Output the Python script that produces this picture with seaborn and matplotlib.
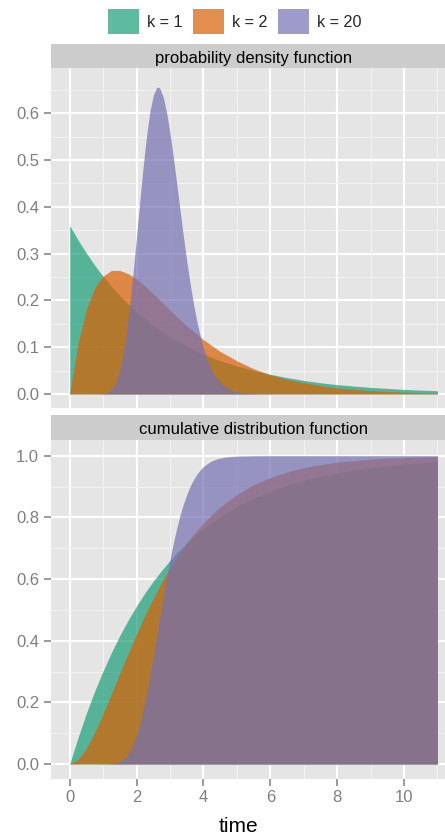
import matplotlib
matplotlib.use("Agg")
import matplotlib.pyplot as plt
from matplotlib.patches import Patch
from matplotlib.ticker import MultipleLocator, FormatStrFormatter
import seaborn as sns
import pandas as pd

# ---------------- data ----------------
series_labels = ["k = 1", "k = 2", "k = 20"]
panel_titles = ["probability density function", "cumulative distribution function"]

time_k12 = [0, 0.25, 0.5, 0.75, 1, 1.25, 1.5, 1.75, 2, 2.25, 2.5, 2.75, 3, 3.25,
            3.5, 3.75, 4, 4.5, 5, 5.5, 6, 6.5, 7, 7.5, 8, 8.5, 9, 9.5, 10, 10.5, 11]

pdf_k1 = [0.360, 0.329, 0.301, 0.275, 0.251, 0.230, 0.210, 0.192, 0.175, 0.160,
          0.146, 0.134, 0.122, 0.112, 0.102, 0.093, 0.085, 0.071, 0.060, 0.050,
          0.042, 0.035, 0.029, 0.024, 0.020, 0.017, 0.014, 0.012, 0.0098, 0.0082, 0.0069]
cdf_k1 = [0, 0.086, 0.165, 0.237, 0.302, 0.362, 0.417, 0.467, 0.513, 0.555,
          0.593, 0.628, 0.660, 0.690, 0.716, 0.741, 0.763, 0.802, 0.835, 0.862,
          0.885, 0.904, 0.920, 0.933, 0.944, 0.953, 0.961, 0.967, 0.973, 0.977, 0.981]

pdf_k2 = [0, 0.108, 0.181, 0.227, 0.252, 0.264, 0.264, 0.257, 0.246, 0.231,
          0.214, 0.197, 0.179, 0.162, 0.146, 0.131, 0.116, 0.091, 0.071, 0.054,
          0.041, 0.031, 0.024, 0.018, 0.013, 0.010, 0.0071, 0.0053, 0.0039, 0.0028, 0.0021]
cdf_k2 = [0, 0.014, 0.051, 0.103, 0.163, 0.228, 0.294, 0.359, 0.422, 0.482,
          0.537, 0.589, 0.636, 0.678, 0.717, 0.751, 0.782, 0.834, 0.874, 0.906,
          0.929, 0.947, 0.961, 0.971, 0.979, 0.984, 0.989, 0.992, 0.994, 0.996, 0.997]

time_k20 = [0, 0.8, 0.9, 1.0, 1.1, 1.2, 1.3, 1.4, 1.5, 1.6, 1.7, 1.8, 1.9, 2.0,
            2.1, 2.2, 2.3, 2.4, 2.5, 2.6, 2.65, 2.7, 2.8, 2.9, 3.0, 3.1, 3.2, 3.3,
            3.4, 3.5, 3.6, 3.7, 3.8, 3.9, 4.0, 4.1, 4.2, 4.3, 4.4, 4.5, 4.6, 4.7,
            4.8, 4.9, 5.0, 5.5, 6.0, 11.0]
pdf_k20 = [0, 0.00005, 0.00024, 0.00086, 0.0026, 0.0065, 0.0145, 0.0289, 0.0521,
           0.0865, 0.1331, 0.1920, 0.2611, 0.3367, 0.4142, 0.4879, 0.5527, 0.6039,
           0.6384, 0.6547, 0.6560, 0.6528, 0.6341, 0.6013, 0.5573, 0.5058, 0.4501,
           0.3931, 0.3374, 0.2849, 0.2368, 0.1940, 0.1567, 0.1250, 0.0984, 0.0766,
           0.0589, 0.0448, 0.0338, 0.0252, 0.0186, 0.0136, 0.0099, 0.0071, 0.0051,
           0.00085, 0.00012, 0]
cdf_k20 = [0, 0.0, 0.00002, 0.0001, 0.0003, 0.0007, 0.0018, 0.0039, 0.0080,
           0.0149, 0.0259, 0.0421, 0.0648, 0.0947, 0.1322, 0.1773, 0.2294, 0.2872,
           0.3493, 0.4140, 0.4468, 0.4795, 0.5437, 0.6055, 0.6634, 0.7165, 0.7643,
           0.8065, 0.8430, 0.8741, 0.9002, 0.9217, 0.9393, 0.9534, 0.9645, 0.9733,
           0.9801, 0.9853, 0.9892, 0.9921, 0.9943, 0.9959, 0.9971, 0.9980, 0.9986,
           0.9998, 1.0, 1.0]

# long table
rows = []
for lab, t, pdf, cdf in [("k = 1", time_k12, pdf_k1, cdf_k1),
                         ("k = 2", time_k12, pdf_k2, cdf_k2),
                         ("k = 20", time_k20, pdf_k20, cdf_k20)]:
    for ti, p, c in zip(t, pdf, cdf):
        rows.append((lab, panel_titles[0], ti, p))
        rows.append((lab, panel_titles[1], ti, c))
df = pd.DataFrame(rows, columns=["k", "panel", "time", "value"])

# ---------------- style ----------------
sns.set_theme(style="darkgrid")
plt.rcParams['font.family'] = ['Liberation Sans', 'DejaVu Sans']

palette = dict(zip(series_labels, sns.color_palette("Dark2", 3)))
ALPHA = 0.7
GREY50 = "#7F7F7F"

W, H = 445, 838
fig = plt.figure(figsize=(W / 100, H / 100), dpi=100)
fig.patch.set_facecolor("white")


def fr(l, t, r, b):
    return [l / W, 1 - b / H, (r - l) / W, (b - t) / H]


ax_top = fig.add_axes(fr(51, 68.3, 445, 408.3))
ax_bot = fig.add_axes(fr(51, 439.5, 445, 779.3))
st_top = fig.add_axes(fr(51, 44, 445, 68.3))
st_bot = fig.add_axes(fr(51, 415.3, 445, 439.5))

for ax, title in [(ax_top, panel_titles[0]), (ax_bot, panel_titles[1])]:
    sub = df[df.panel == title]
    for lab in series_labels:
        s = sub[sub.k == lab]
        ax.fill_between(s.time, 0, s.value, color=palette[lab], alpha=ALPHA,
                        linewidth=0, zorder=2)
    ax.set_facecolor("#E5E5E5")
    for sp in ax.spines.values():
        sp.set_visible(False)
    ax.set_axisbelow(True)
    ax.set_xlim(-0.559, 11.226)
    ax.xaxis.set_major_locator(MultipleLocator(2))
    ax.xaxis.set_minor_locator(MultipleLocator(1))
    ax.grid(which="major", color="white", linewidth=1.5)
    ax.grid(which="minor", color="#F2F2F2", linewidth=0.75)
    ax.tick_params(which="major", length=5, width=1.1, color=GREY50,
                   labelcolor=GREY50, labelsize=12, pad=3.6, left=True, bottom=True)
    ax.tick_params(which="minor", length=0)
    ax.yaxis.set_major_formatter(FormatStrFormatter("%.1f"))
    ax.xaxis.set_major_formatter(FormatStrFormatter("%d"))
    ax.set_ylabel("")

ax_top.set_ylim(-0.0306, 0.696)
ax_top.yaxis.set_major_locator(MultipleLocator(0.1))
ax_top.yaxis.set_minor_locator(MultipleLocator(0.05))
ax_top.tick_params(axis="x", bottom=False, labelbottom=False)
ax_top.set_xlabel("")

ax_bot.set_ylim(-0.0496, 1.0525)
ax_bot.yaxis.set_major_locator(MultipleLocator(0.2))
ax_bot.yaxis.set_minor_locator(MultipleLocator(0.1))
ax_bot.tick_params(axis="x", pad=2.5)
ax_bot.set_xlabel("time", fontsize=15, color="black")
ax_bot.xaxis.set_label_coords((238 - 51) / 394, (779.3 - 831.7) / 339.8)
ax_bot.xaxis.label.set_va("baseline")

for st, title in [(st_top, panel_titles[0]), (st_bot, panel_titles[1])]:
    st.set_facecolor("#CCCCCC")
    st.set_xticks([])
    st.set_yticks([])
    st.grid(False)
    for sp in st.spines.values():
        sp.set_visible(False)
    st.text(0.513, 0.22, title, transform=st.transAxes, ha="center",
            va="baseline", fontsize=12, color="black")

handles = [Patch(facecolor=palette[l], alpha=ALPHA, edgecolor="none") for l in series_labels]
fig.legend(handles, series_labels, loc="center", bbox_to_anchor=(234.5 / W, 1 - 21.5 / H),
           ncol=3, frameon=False, fontsize=11.6, handlelength=1.93, handleheight=1.93,
           handletextpad=0.5, columnspacing=0.64, borderpad=0, borderaxespad=0)

fig.savefig("out.png", dpi=100, facecolor="white")
